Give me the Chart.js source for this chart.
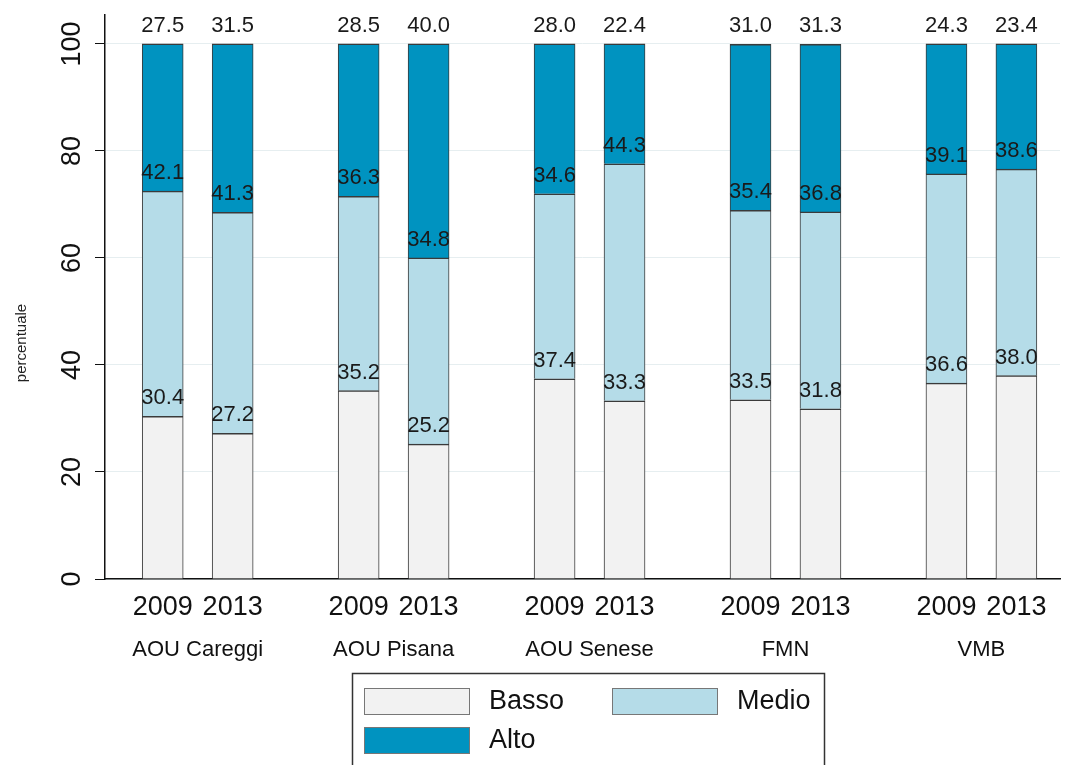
<!DOCTYPE html>
<html>
<head>
<meta charset="utf-8">
<title>percentuale per livello</title>
<script src="https://cdn.jsdelivr.net/npm/chart.js@4/dist/chart.umd.min.js"></script>
<style>
  body { margin: 0; background: #fff; }
  #grafico { display: block; }
</style>
</head>
<body>
<canvas id="grafico" width="1067" height="765"></canvas>
<script>
// dati
var gruppi = ['AOU Careggi', 'AOU Pisana', 'AOU Senese', 'FMN', 'VMB'];
var anni = ['2009', '2013'];
var basso = [30.4, 27.2, 35.2, 25.2, 37.4, 33.3, 33.5, 31.8, 36.6, 38.0];
var medio = [42.1, 41.3, 36.3, 34.8, 34.6, 44.3, 35.4, 36.8, 39.1, 38.6];
var alto  = [27.5, 31.5, 28.5, 40.0, 28.0, 22.4, 31.0, 31.3, 24.3, 23.4];
var tickY = [0, 20, 40, 60, 80, 100];

var font = 'Liberation Sans, Arial, sans-serif';

// posizione di ogni barra: gruppo +/- mezzo passo per l'anno
var passoAnno = 0.357;
var posizioni = [];
for (var g = 0; g < gruppi.length; g++) {
    for (var a = 0; a < anni.length; a++) {
        posizioni.push(g + (a - 0.5) * passoAnno);
    }
}

function punti(valori) {
    var out = [];
    for (var i = 0; i < valori.length; i++) {
        out.push({ x: posizioni[i], y: valori[i] });
    }
    return out;
}

var bordo = { top: 1.5, left: 1, right: 1, bottom: 1 };

// etichette dei valori sopra ogni segmento
var etichette = {
    id: 'etichette',
    afterDatasetsDraw: function (chart) {
        var ctx = chart.ctx;
        ctx.save();
        ctx.font = '22px ' + font;
        ctx.fillStyle = '#1a1a1a';
        ctx.textAlign = 'center';
        ctx.textBaseline = 'alphabetic';
        chart.data.datasets.forEach(function (ds, i) {
            var meta = chart.getDatasetMeta(i);
            meta.data.forEach(function (bar, j) {
                ctx.fillText(ds.data[j].y.toFixed(1), bar.x, bar.y - 12);
            });
        });
        ctx.restore();
    }
};

// titolo asse y e legenda in riquadro
var extra = {
    id: 'extra',
    afterDraw: function (chart) {
        var ctx = chart.ctx;
        ctx.save();
        ctx.translate(22, 343);
        ctx.rotate(-Math.PI / 2);
        ctx.font = '15px ' + font;
        ctx.fillStyle = '#222';
        ctx.textAlign = 'center';
        ctx.textBaseline = 'middle';
        ctx.fillText('percentuale', 0, 0);
        ctx.restore();

        ctx.save();
        ctx.strokeStyle = '#333';
        ctx.lineWidth = 1.5;
        ctx.strokeRect(352.5, 673.5, 472, 110);
        var pos = [[364, 688], [612, 688], [364, 727]];
        ctx.font = '27px ' + font;
        ctx.textBaseline = 'middle';
        ctx.textAlign = 'left';
        chart.data.datasets.forEach(function (ds, i) {
            var p = pos[i];
            ctx.fillStyle = ds.backgroundColor;
            ctx.fillRect(p[0], p[1], 106, 27);
            ctx.strokeStyle = '#777';
            ctx.lineWidth = 1;
            ctx.strokeRect(p[0] + 0.5, p[1] + 0.5, 105, 26);
            ctx.fillStyle = '#111';
            ctx.fillText(ds.label, p[0] + 125, p[1] + 14);
        });
        ctx.restore();
    }
};

function senzaMargini(scale) {
    scale.paddingTop = 0;
    scale.paddingBottom = 0;
    scale.paddingLeft = 0;
    scale.paddingRight = 0;
}

var ctx = document.getElementById('grafico');
var chart = new Chart(ctx, {
    type: 'bar',
    data: {
        datasets: [{
            label: 'Basso',
            data: punti(basso),
            backgroundColor: '#f2f2f2',
            borderColor: '#3a3a3a',
            borderWidth: bordo
        }, {
            label: 'Medio',
            data: punti(medio),
            backgroundColor: '#b5dce8',
            borderColor: '#3a3a3a',
            borderWidth: bordo
        }, {
            label: 'Alto',
            data: punti(alto),
            backgroundColor: '#0093c0',
            borderColor: '#3a3a3a',
            borderWidth: bordo
        }]
    },
    options: {
        responsive: false,
        devicePixelRatio: 1,
        animation: false,
        barThickness: 41,
        layout: { padding: { top: 15, right: 7, left: 0, bottom: 86 } },
        plugins: {
            legend: { display: false },
            tooltip: { enabled: false }
        },
        scales: {
            x: {
                type: 'linear',
                position: 'bottom',
                stacked: true,
                offset: false,
                weight: 0,
                min: -0.473,
                max: 4.401,
                grid: { display: false, drawTicks: false, offset: false },
                border: { display: true, color: '#111', width: 1.5 },
                afterBuildTicks: function (scale) {
                    scale.ticks = posizioni.map(function (v) { return { value: v }; });
                },
                afterFit: function (scale) { scale.height = 50; senzaMargini(scale); },
                ticks: {
                    autoSkip: false,
                    maxRotation: 0,
                    padding: 12,
                    color: '#111',
                    font: { family: font, size: 27 },
                    callback: function (value, index) { return anni[index % anni.length]; }
                }
            },
            x2: {
                type: 'linear',
                position: 'bottom',
                offset: false,
                weight: 1,
                min: -0.473,
                max: 4.401,
                grid: { display: false, drawTicks: false, offset: false },
                border: { display: false },
                afterBuildTicks: function (scale) {
                    scale.ticks = gruppi.map(function (n, i) { return { value: i }; });
                },
                afterFit: function (scale) { scale.height = 50; senzaMargini(scale); },
                ticks: {
                    autoSkip: false,
                    maxRotation: 0,
                    padding: 8,
                    color: '#111',
                    font: { family: font, size: 22 },
                    callback: function (value, index) { return gruppi[index]; }
                }
            },
            y: {
                stacked: true,
                min: 0,
                max: 105.4,
                grid: { color: '#e6eef0', lineWidth: 1, tickColor: '#111', tickLength: 10 },
                border: { display: true, color: '#111', width: 1.5 },
                afterBuildTicks: function (scale) {
                    scale.ticks = tickY.map(function (v) { return { value: v }; });
                },
                afterFit: function (scale) { scale.width = 105; senzaMargini(scale); },
                ticks: {
                    minRotation: 90,
                    maxRotation: 90,
                    crossAlign: 'center',
                    padding: 0,
                    color: '#111',
                    font: { family: font, size: 27 }
                }
            }
        }
    },
    plugins: [etichette, extra]
});
</script>
</body>
</html>
